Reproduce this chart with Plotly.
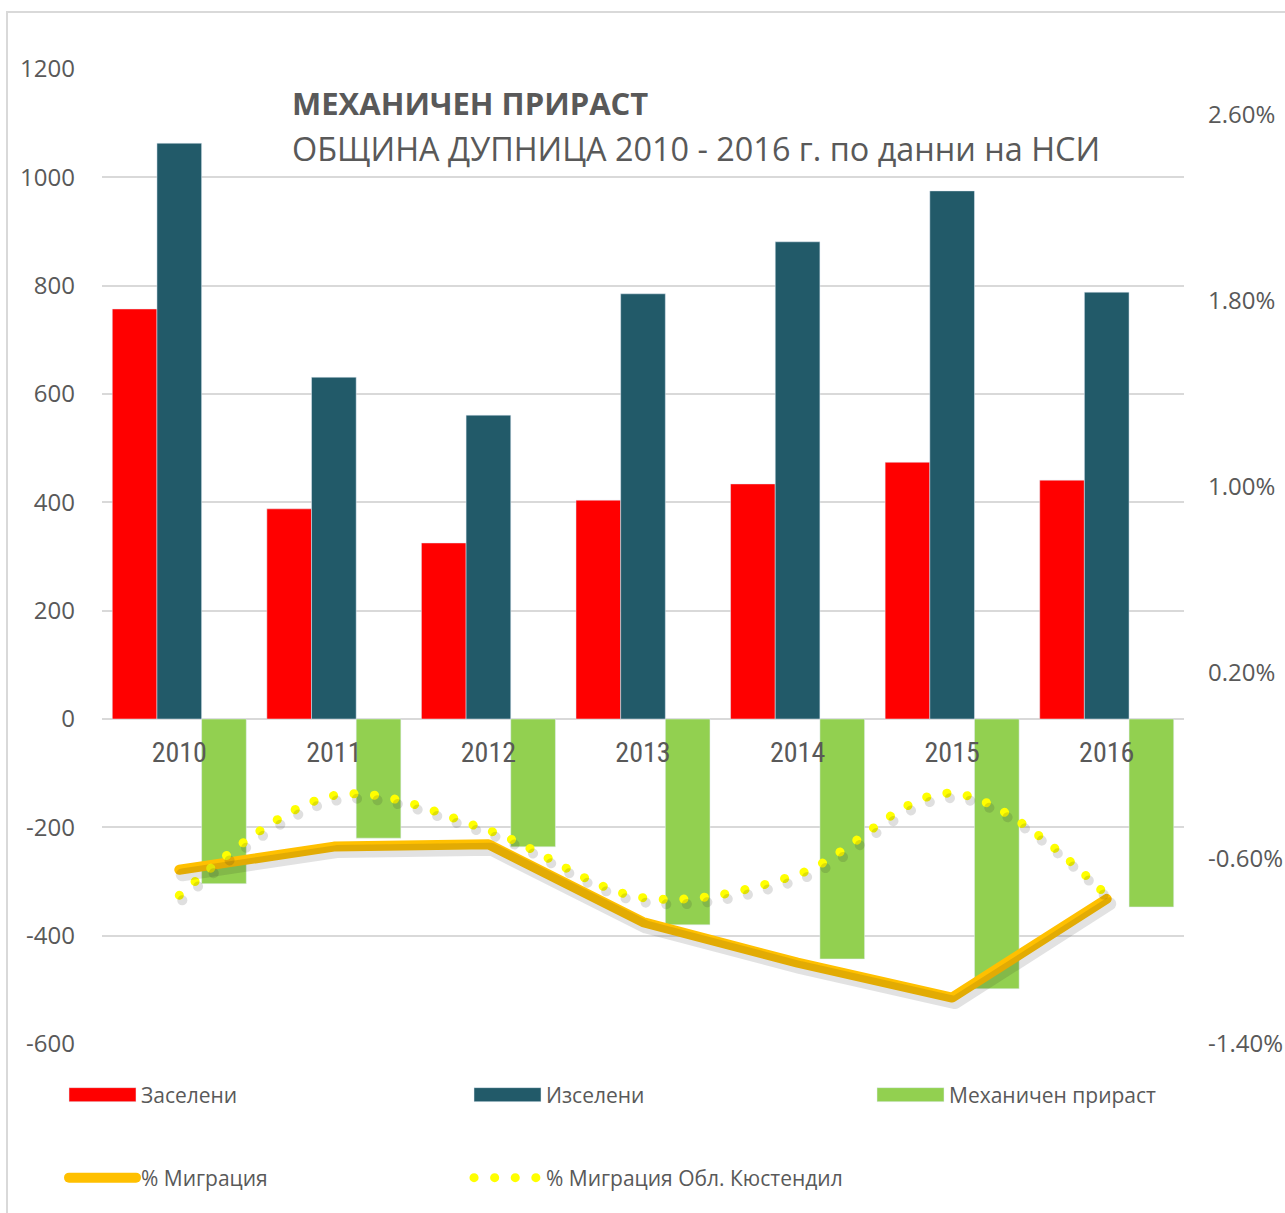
import plotly.graph_objects as go

# ---------------- data ----------------
years = ["2010", "2011", "2012", "2013", "2014", "2015", "2016"]
zaseleni = [757, 388, 325, 404, 434, 474, 441]
izseleni = [1063, 631, 561, 785, 881, 975, 788]
mehanichen = [-304, -220, -236, -380, -443, -498, -347]
migracia = [-0.65, -0.55, -0.54, -0.875, -1.05, -1.20, -0.775]
migracia_obl = [-0.76, -0.33, -0.48, -0.77, -0.67, -0.32, -0.76]

left_ticks = [-600, -400, -200, 0, 200, 400, 600, 800, 1000, 1200]
left_ticktext = [str(v) for v in left_ticks]
right_ticks = [-1.4, -0.6, 0.2, 1.0, 1.8, 2.6]
right_ticktext = ["%.2f%%" % v for v in right_ticks]

# ---------------- style ----------------
W, H = 1285, 1213
ML, MR, MT, MB = 102, 101, 69, 169
PW, PH = W - ML - MR, H - MT - MB
Y_RANGE = [-600, 1200]
Y2_RANGE = [-1.4, 2.798]
GRAY = "#595959"
GRID = "#d9d9d9"
FONT = "Open Sans, Noto Sans, sans-serif"
NARROW = "Liberation Sans Narrow, Arial Narrow, Roboto Condensed, sans-serif"

C_RED = "#FF0000"
C_TEAL = "#225A69"
C_GREEN = "#92D050"
C_ORANGE = "#FFC000"
C_YELLOW = "#FFFF00"
SHADOW_LINE = "rgba(30,30,30,0.13)"
SHADOW_DOTS = "rgba(40,40,40,0.15)"

def px_to_paper_x(px):
    return (px - ML) / PW

def px_to_paper_y(py):
    return (MT + PH - py) / PH

fig = go.Figure()

# bars
fig.add_trace(go.Bar(x=years, y=zaseleni, name="Заселени", marker_color=C_RED,
                     legend="legend", xaxis="x", yaxis="y"))
fig.add_trace(go.Bar(x=years, y=izseleni, name="Изселени", marker_color=C_TEAL,
                     legend="legend", xaxis="x", yaxis="y"))
fig.add_trace(go.Bar(x=years, y=mehanichen, name="Механичен прираст", marker_color=C_GREEN,
                     legend="legend3", xaxis="x", yaxis="y"))

# shadows of the lines (offset axes)
fig.add_trace(go.Scatter(x=years, y=migracia, mode="lines", showlegend=False, hoverinfo="skip",
                         line=dict(color=SHADOW_LINE, width=13), xaxis="x2", yaxis="y3"))
fig.add_trace(go.Scatter(x=years, y=migracia_obl, mode="lines", showlegend=False, hoverinfo="skip",
                         line=dict(color=SHADOW_DOTS, width=10, shape="spline", smoothing=1,
                                   dash="10px,11px"), xaxis="x2", yaxis="y3"))

# lines
fig.add_trace(go.Scatter(x=years, y=migracia, mode="lines", name="% Миграция",
                         line=dict(color=C_ORANGE, width=10), legend="legend2",
                         xaxis="x", yaxis="y2"))
fig.add_trace(go.Scatter(x=years, y=migracia_obl, mode="lines", name="% Миграция Обл. Кюстендил",
                         line=dict(color=C_YELLOW, width=9, shape="spline", smoothing=1,
                                   dash="9px,12px"), legend="legend2",
                         xaxis="x", yaxis="y2"))

shift_x = 3 / (PW / 7)
shift_y = 5 * (Y2_RANGE[1] - Y2_RANGE[0]) / PH

legend_common = dict(orientation="h", xanchor="left", yanchor="middle",
                     entrywidth=323, entrywidthmode="pixels", itemwidth=67,
                     font=dict(family=FONT, size=21, color=GRAY), bgcolor="rgba(0,0,0,0)")

fig.update_layout(
    width=W, height=H,
    margin=dict(l=ML, r=MR, t=MT, b=MB),
    paper_bgcolor="white", plot_bgcolor="white",
    font=dict(family=FONT, color=GRAY),
    barmode="group", bargap=0.133, bargroupgap=0,
    xaxis=dict(type="category", categoryorder="array", categoryarray=years,
               range=[-0.5, 6.5], anchor="free", position=600 / 1800,
               showgrid=False, showline=False, zeroline=False, ticks="",
               tickfont=dict(family=NARROW, size=28, color=GRAY),
               ticklabelstandoff=14, layer="above traces"),
    xaxis2=dict(type="category", categoryorder="array", categoryarray=years,
                overlaying="x", range=[-0.5 - shift_x, 6.5 - shift_x], visible=False),
    yaxis=dict(range=Y_RANGE, tickvals=left_ticks, ticktext=left_ticktext,
               showgrid=True, gridcolor=GRID,
               gridwidth=1.5, zeroline=False, showline=False, ticks="",
               tickfont=dict(family=FONT, size=24, color=GRAY), ticklabelstandoff=26),
    yaxis2=dict(range=Y2_RANGE, overlaying="y", side="right", tickvals=right_ticks,
                ticktext=right_ticktext, showgrid=False, zeroline=False, showline=False,
                ticks="", tickfont=dict(family=FONT, size=24, color=GRAY),
                ticklabelstandoff=23, automargin=False),
    yaxis3=dict(range=[Y2_RANGE[0] + shift_y, Y2_RANGE[1] + shift_y], overlaying="y",
                visible=False),
    legend=dict(legend_common, x=px_to_paper_x(64), y=px_to_paper_y(1095)),
    legend3=dict(legend_common, x=px_to_paper_x(64 + 2 * 404), y=px_to_paper_y(1095),
                 entrywidth=230),
    legend2=dict(legend_common, x=px_to_paper_x(64), y=px_to_paper_y(1178)),
    annotations=[
        dict(text="<b>МЕХАНИЧЕН ПРИРАСТ</b>", xref="paper", yref="paper",
             x=px_to_paper_x(290), y=px_to_paper_y(103), xanchor="left", yanchor="middle",
             showarrow=False, font=dict(family=FONT, size=31, color=GRAY)),
        dict(text="ОБЩИНА ДУПНИЦА 2010 - 2016 г. по данни на НСИ", xref="paper", yref="paper",
             x=px_to_paper_x(290), y=px_to_paper_y(148), xanchor="left", yanchor="middle",
             showarrow=False, font=dict(family=FONT, size=32.4, color=GRAY)),
    ],
    shapes=[
        dict(type="rect", xref="paper", yref="paper", layer="below",
             x0=px_to_paper_x(7), x1=px_to_paper_x(1300),
             y0=px_to_paper_y(1230), y1=px_to_paper_y(12),
             line=dict(color=GRID, width=2), fillcolor="rgba(0,0,0,0)"),
    ],
)

post = """
document.body.style.margin = '0';
document.body.style.padding = '0';
var gd = document.getElementById('{plot_id}');
function fixStyles(){
  gd.querySelectorAll('path.js-line').forEach(function(p){
    var s = p.style.stroke || '';
    if (s.indexOf('255, 255, 0') >= 0 || s.indexOf('40, 40, 40') >= 0) {
      p.style.strokeLinecap = 'round';
      p.style.strokeDasharray = '0.1px, 20.5px';
    }
    if (s.indexOf('255, 192, 0') >= 0 || s.indexOf('30, 30, 30') >= 0) {
      p.style.strokeLinecap = 'round';
      p.style.strokeLinejoin = 'round';
    }
  });
  gd.querySelectorAll('.legendpoints path').forEach(function(p){
    var d = p.getAttribute('d') || '';
    if (d.indexOf('H-6V-6') >= 0) {
      p.setAttribute('d', 'M33.5,7H-33.5V-7H33.5Z');
    }
  });
}
fixStyles();
gd.on('plotly_afterplot', fixStyles);
"""

fig.write_html("out.html", post_script=post, config={"displayModeBar": False})
